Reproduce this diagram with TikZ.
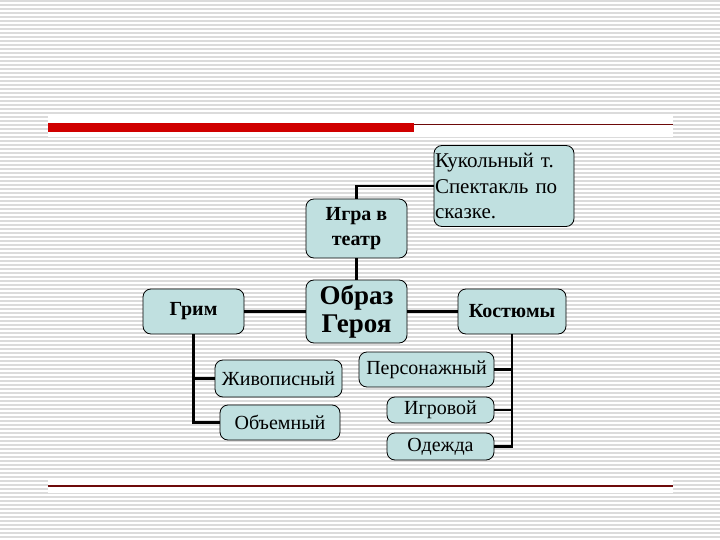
\documentclass[tikz,border=0pt]{standalone}
\usepackage{fontspec}
\setmainfont{Liberation Serif}
\usepackage{xcolor}
\usetikzlibrary{positioning,calc}
\definecolor{boxfill}{RGB}{192,224,224}
\definecolor{barred}{RGB}{208,0,0}
\definecolor{linered}{RGB}{110,10,10}
\tikzset{
	box/.style={draw, rounded corners=8pt, align=center, inner sep=1pt,
		fill=boxfill, line width=0.8pt},
	link/.style={line width=2.4pt, black},
	stripe/.style={line width=1.3pt, gray!28}
}

\begin{document}
\begin{tikzpicture}[x=1pt, y=-1pt,
			boldbox/.style={box, font=\fontsize{20}{25}\selectfont\bfseries},
			plainbox/.style={box, font=\fontsize{20}{25.5}\selectfont},
			]
			
			%% -- Page background with fine stripes
			\useasboundingbox (0,0) rectangle (720,540);
			\fill[white] (0,0) rectangle (720,540);
			\foreach \y in {1,5,...,540}
			\draw[stripe] (0,\y) -- (720,\y);
			
			%% -- Title rule and footer rule
			\fill[white] (48,115) rectangle (673,137);
			\fill[white] (48,480) rectangle (673,493);
			\fill[barred] (48,123) rectangle (414,132);
			\draw[linered, line width=1.2pt] (414,124.5) -- (673,124.5);
			\draw[linered, line width=1.4pt] (48,486) -- (673,486);
			
			%% -- Central node and top row
			\node[box, font=\fontsize{27}{28}\selectfont\bfseries,
			minimum width=101pt, minimum height=63pt] (obraz) at (356.5,311.5)
			{Образ\\Героя};
			
			\node[boldbox, minimum width=101pt, minimum height=59pt] (igra)
			at (356.5,228.5) {Игра в\\театр};
			
			\node[plainbox, font=\fontsize{21}{25.5}\selectfont, align=left,
			text width=138pt, minimum height=81pt] (kukla) at (504,186)
			{Кукольный т.\\Спектакль по\\сказке.};
			
			%% -- Side nodes
			\node[boldbox, minimum width=101pt, minimum height=45pt] (grim)
			at (193.5,311.5) {Грим};
			
			\node[boldbox, minimum width=108pt, minimum height=45pt] (kostyum)
			at (512,311.5) {Костюмы};
			
			%% -- Make-up kinds (left)
			\node[plainbox, minimum width=127pt, minimum height=37pt] (zhivop)
			at (278.5,378.5) {Живописный};
			\node[plainbox, minimum width=120pt, minimum height=35pt] (obem)
			at (280,422.5) {Объемный};
			
			%% -- Costume kinds (right)
			\node[plainbox, minimum width=135pt, minimum height=35pt] (persona)
			at (426.5,369.5) {Персонажный};
			\node[plainbox, minimum width=107pt, minimum height=26pt] (igrovoy)
			at (440.5,410) {Игровой};
			\node[plainbox, minimum width=107pt, minimum height=27pt] (odezhda)
			at (440.5,446.5) {Одежда};
			
			%% -- Connectors
			\draw[link] (igra.north) |- (kukla.west);
			\draw[link] (igra.south) -- (obraz.north);
			\draw[link] (grim.east) -- (obraz.west);
			\draw[link] (obraz.east) -- (kostyum.west);
			
			\draw[link] (grim.south) |- (obem.west);
			\draw[link] (grim.south |- zhivop.west) -- (zhivop.west);
			
			\draw[link] (kostyum.south) |- (odezhda.east);
			\draw[link] (kostyum.south |- persona.east) -- (persona.east);
			\draw[link] (kostyum.south |- igrovoy.east) -- (igrovoy.east);
			
		\end{tikzpicture}
\end{document}
